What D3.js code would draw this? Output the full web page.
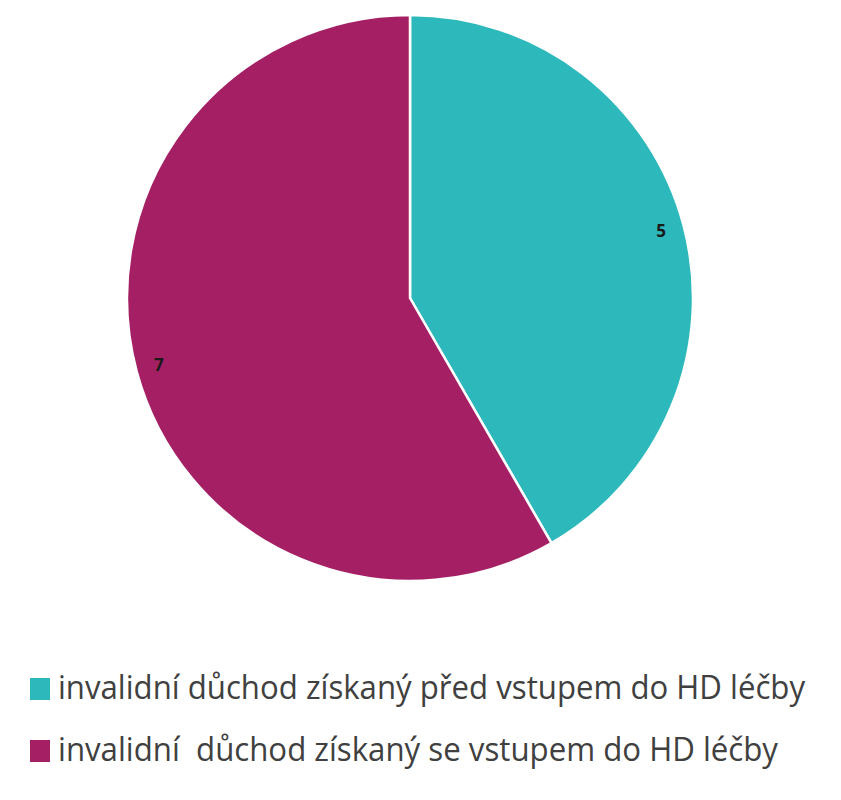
<!DOCTYPE html>
<html>
<head>
<meta charset="utf-8">
<script src="https://cdn.jsdelivr.net/npm/d3@7"></script>
<style>
  body { margin: 0; background: #fff; }
</style>
</head>
<body>
<div id="chart"></div>
<script>
//~~~~~~~~~~~~~~~~~~~~~~~~~~~~~~~~~~~~
// Data
//~~~~~~~~~~~~~~~~~~~~~~~~~~~~~~~~~~~~
const categories = [
    "invalidní důchod získaný před vstupem do HD léčby",
    "invalidní  důchod získaný se vstupem do HD léčby"
];
const values = [5, 7];
const colors = ["#2db8bb", "#a51f64"];

//~~~~~~~~~~~~~~~~~~~~~~~~~~~~~~~~~~~~
// Pie chart
//~~~~~~~~~~~~~~~~~~~~~~~~~~~~~~~~~~~~
function createPieChart() {
    const width = 841;
    const height = 800;
    const cx = 410, cy = 298, radius = 283;

    const data = categories.map((c, i) => ({ name: c, value: values[i], color: colors[i] }));

    const svg = d3.select("#chart")
        .append("svg")
        .attr("width", width)
        .attr("height", height);

    const pie = d3.pie()
        .sort(null)
        .value(d => d.value);

    const arc = d3.arc()
        .innerRadius(0)
        .outerRadius(radius);

    // labels sit just inside the rim, at the slice middle
    const labelArc = d3.arc()
        .innerRadius(radius - 23)
        .outerRadius(radius - 23);

    const g = svg.append("g")
        .attr("transform", `translate(${cx},${cy})`);

    const arcs = pie(data);

    g.selectAll("path")
        .data(arcs)
        .join("path")
        .attr("d", arc)
        .attr("fill", d => d.data.color)
        .attr("stroke", "#fff")
        .attr("stroke-width", 2.5);

    g.selectAll("text.val")
        .data(arcs)
        .join("text")
        .attr("class", "val")
        .attr("transform", d => `translate(${labelArc.centroid(d)})`)
        .attr("text-anchor", "middle")
        .attr("dy", "0.35em")
        .attr("font-family", "Open Sans, sans-serif")
        .attr("font-weight", "bold")
        .attr("font-size", 17)
        .attr("fill", "#1a1a1a")
        .text(d => d.data.value);

    // legend
    const legendWidths = [747, 720];
    const legend = svg.append("g")
        .selectAll("g")
        .data(data)
        .join("g")
        .attr("transform", (d, i) => `translate(30,${678 + i * 62})`);

    legend.append("rect")
        .attr("width", 20)
        .attr("height", 22)
        .attr("fill", d => d.color);

    legend.append("text")
        .attr("x", 28)
        .attr("y", 21)
        .attr("font-family", "Open Sans, sans-serif")
        .attr("font-size", 32)
        .attr("fill", "#404040")
        .attr("textLength", (d, i) => legendWidths[i])
        .attr("lengthAdjust", "spacingAndGlyphs")
        .style("white-space", "pre")
        .text(d => d.name);
}

createPieChart();
</script>
</body>
</html>
